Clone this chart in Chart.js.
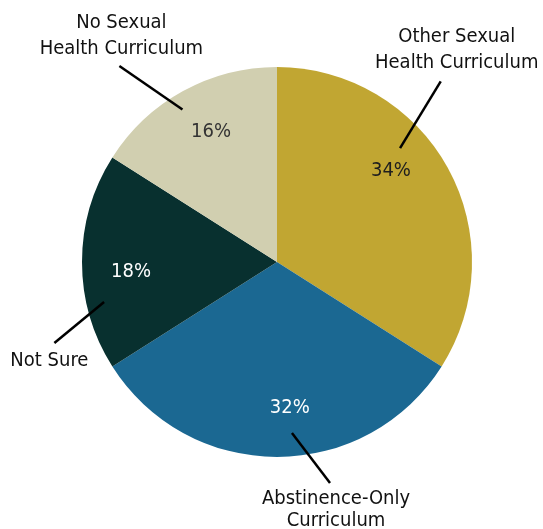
<!DOCTYPE html>
<html>
<head>
<meta charset="utf-8">
<script src="https://cdn.jsdelivr.net/npm/chart.js@4"></script>
<style>
  html, body { margin: 0; padding: 0; background: #fff; }
  #wrap { width: 543px; height: 529px; }
</style>
</head>
<body>
<div id="wrap"><canvas id="myChart" width="543" height="529"></canvas></div>
<script>
'use strict';

// data
let categories = ['Other Sexual Health Curriculum', 'Abstinence-Only Curriculum', 'Not Sure', 'No Sexual Health Curriculum'];
let labelLines = [['Other Sexual', 'Health Curriculum'], ['Abstinence-Only', 'Curriculum'], ['Not Sure'], ['No Sexual', 'Health Curriculum']];
let shares = [34, 32, 18, 16];
let sliceColors = ['#c1a632', '#1b6892', '#08302f', '#d1cfb0'];
let pctColors = ['#1e1e1e', '#ffffff', '#ffffff', '#333333'];

// leader-line layout: angle shift (deg) and radius fractions, plus text offset
let callouts = [
  { pctShift: -10, inA: -14, inR: 0.86, outA: -19, outR: 1.25, tx: 16, ty: -32, lh: 26 },
  { pctShift: -5, inA: -5, inR: 0.88, outA: -13.5, outR: 1.165, tx: 6, ty: 27, lh: 22 },
  { pctShift: -4, inA: -13, inR: 0.91, outA: -20, outR: 1.215, tx: -5, ty: 18, lh: 24 },
  { pctShift: 2, inA: -3, inR: 0.92, outA: -10, outR: 1.29, tx: 2, ty: -30, lh: 26 }
];

const FONT = '"Liberation Sans Narrow", "DejaVu Sans Condensed", "Liberation Sans", sans-serif';

let calloutPlugin = {
  id: 'callouts',
  afterDatasetsDraw(chart) {
    let ctx = chart.ctx;
    let arcs = chart.getDatasetMeta(0).data;
    ctx.save();
    arcs.forEach((arc, i) => {
      let cx = arc.x, cy = arc.y, R = arc.outerRadius;
      let mid = (arc.startAngle + arc.endAngle) / 2;
      let c = callouts[i];
      let at = (deg, r) => {
        let a = mid + deg * Math.PI / 180;
        return [cx + Math.cos(a) * R * r, cy + Math.sin(a) * R * r];
      };
      // percent label
      let p = at(c.pctShift, 0.75);
      ctx.font = '20px ' + FONT;
      ctx.fillStyle = pctColors[i];
      ctx.textAlign = 'center';
      ctx.textBaseline = 'middle';
      ctx.fillText(shares[i] + '%', p[0], p[1]);
      // leader line
      let a = at(c.inA, c.inR), b = at(c.outA, c.outR);
      ctx.strokeStyle = '#000';
      ctx.lineWidth = 2.5;
      ctx.beginPath();
      ctx.moveTo(a[0], a[1]);
      ctx.lineTo(b[0], b[1]);
      ctx.stroke();
      // category label
      ctx.fillStyle = '#111';
      let lines = labelLines[i];
      let y0 = b[1] + c.ty - (lines.length - 1) * c.lh / 2;
      lines.forEach((t, k) => ctx.fillText(t, b[0] + c.tx, y0 + k * c.lh));
    });
    ctx.restore();
  }
};

let chartObj = {
  type: 'pie',
  data: {
    labels: categories,
    datasets: [{
      data: shares,
      backgroundColor: sliceColors,
      borderWidth: 0
    }]
  },
  options: {
    responsive: false,
    animation: false,
    layout: { padding: { top: 67, bottom: 72, left: 82, right: 71 } },
    plugins: {
      legend: { display: false },
      tooltip: { enabled: false }
    }
  },
  plugins: [calloutPlugin]
};

new Chart(document.getElementById('myChart'), chartObj);
</script>
</body>
</html>
